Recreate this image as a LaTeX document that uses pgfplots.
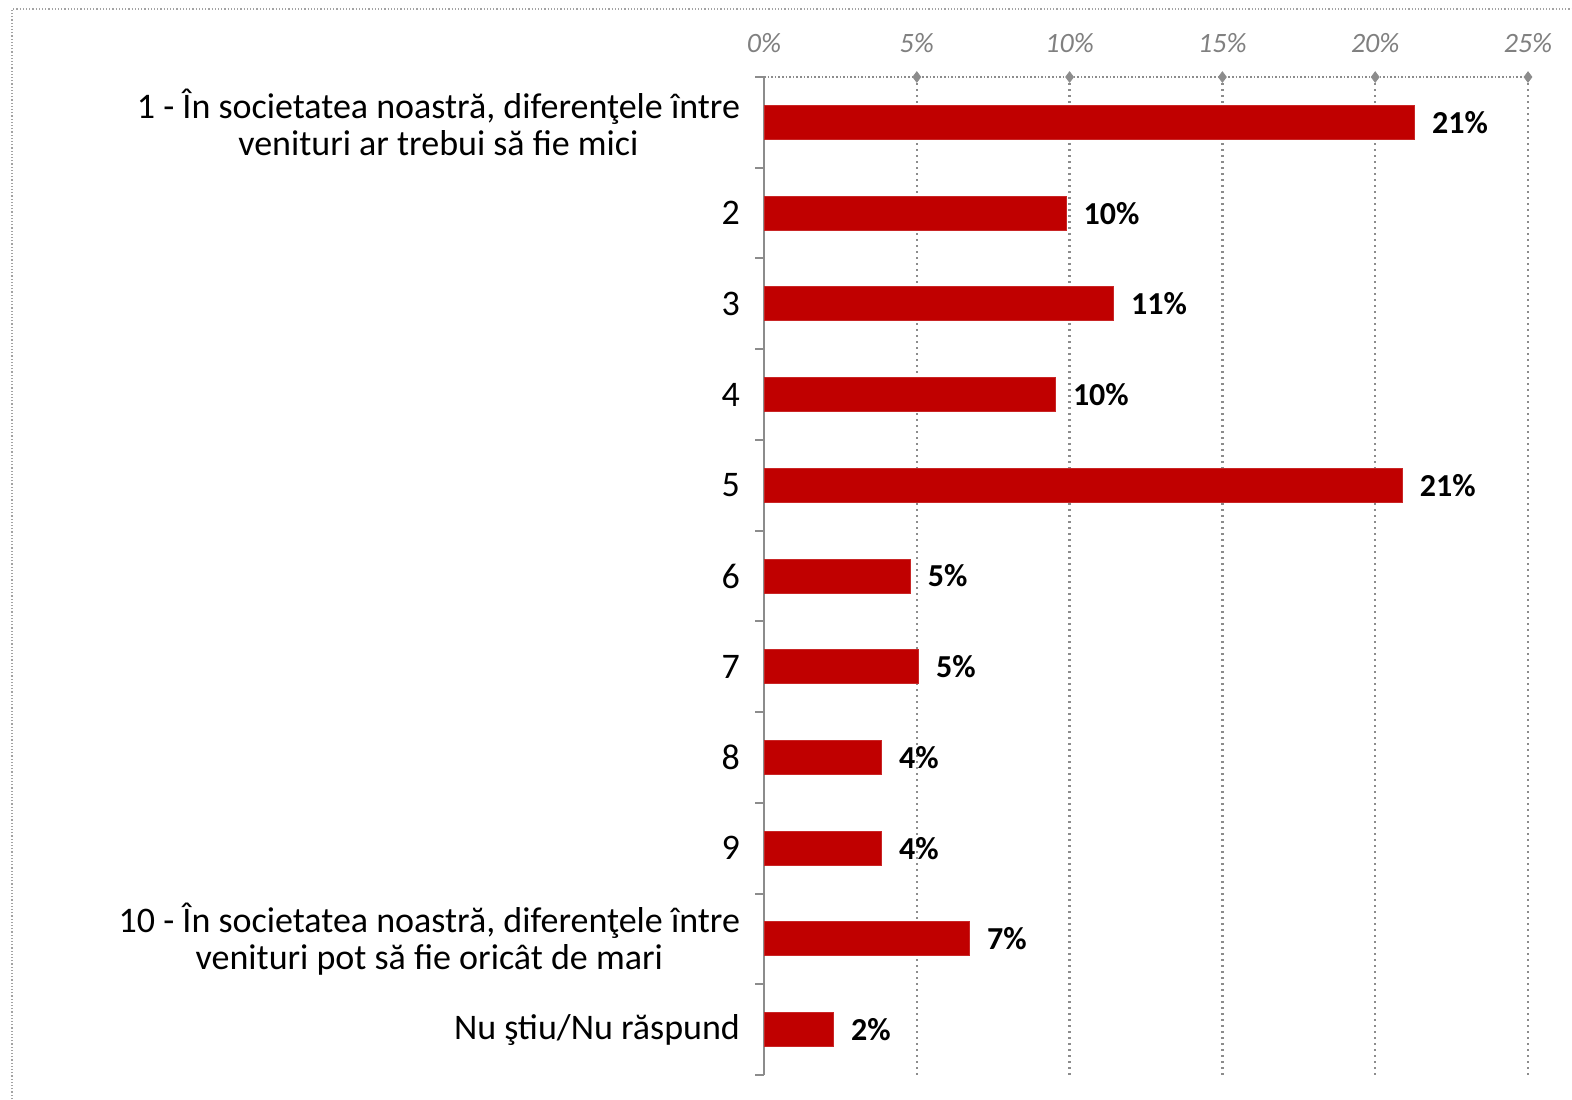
\documentclass[border=0pt]{standalone}
\usepackage{fontspec}
\setmainfont{Carlito}
\usepackage{pgfplots}
\pgfplotsset{compat=1.18}
\usepackage{pgfplotstable}
\definecolor{barred}{HTML}{C00000}
\definecolor{tickgray}{HTML}{808080}
\definecolor{gridgray}{HTML}{8C8C8C}

\pgfplotstableread{
y x lab
0 21.3 21
1 9.9 10
2 11.45 11
3 9.55 10
4 20.9 21
5 4.8 5
6 5.07 5
7 3.86 4
8 3.86 4
9 6.74 7
10 2.29 2
}\data

\begin{document}
\begin{tikzpicture}
\path[use as bounding box] (0,0) rectangle (786pt,-549.5pt);
\draw[gridgray!80, densely dotted, line width=0.6pt] (6pt,-549.5pt) -- (6pt,-4.5pt) -- (786pt,-4.5pt);
\begin{axis}[
  at={(382pt,-38.5pt)}, anchor=north west,
  width=382pt, height=499pt, scale only axis,
  bar width=17pt,
  xmin=0, xmax=25, ymin=-0.5, ymax=10.5, y dir=reverse,
  axis x line*=top, axis y line*=left,
  x axis line style={densely dotted, gridgray, line width=0.8pt, -},
  y axis line style={gridgray, line width=1pt, -},
  xtick={0,5,...,25}, xticklabels={0\%,5\%,10\%,15\%,20\%,25\%},
  xticklabel style={font=\itshape\fontsize{14}{14}\selectfont, text=tickgray, yshift=8.5pt},
  xmajorgrids, major grid style={dash pattern=on 1.1pt off 1.9pt, gridgray, line width=1.2pt},
  major tick length=0pt,
  ytick={0,...,10},
  yticklabels={{1 - În societatea noastră, diferenţele între\\venituri ar trebui să fie mici},2,3,4,5,6,7,8,9,{10 - În societatea noastră, diferenţele între\\venituri pot să fie oricât de mari},{Nu ştiu/Nu răspund}},
  yticklabel style={align=center, font=\fontsize{18}{18.5}\selectfont, xshift=-8.5pt},
  minor ytick={-0.5,0.5,...,10.5},
  minor tick length=4.5pt, tick align=outside,
  minor tick style={gridgray, line width=1pt},
  clip=false,
]
\addplot[xbar, fill=barred, draw=barred!85!white, line width=0.5pt,
  point meta=explicit symbolic,
  nodes near coords={\pgfplotspointmeta\%},
  nodes near coords style={font=\bfseries\fontsize{16}{16}\selectfont, anchor=west, xshift=5pt, text=black}]
  table[x=x, y=y, meta=lab] {\data};
\addplot[only marks, mark=diamond*, mark size=2.6pt, gridgray, forget plot]
  coordinates {(5,-0.5) (10,-0.5) (15,-0.5) (20,-0.5) (25,-0.5)};
\end{axis}
\end{tikzpicture}
\end{document}
